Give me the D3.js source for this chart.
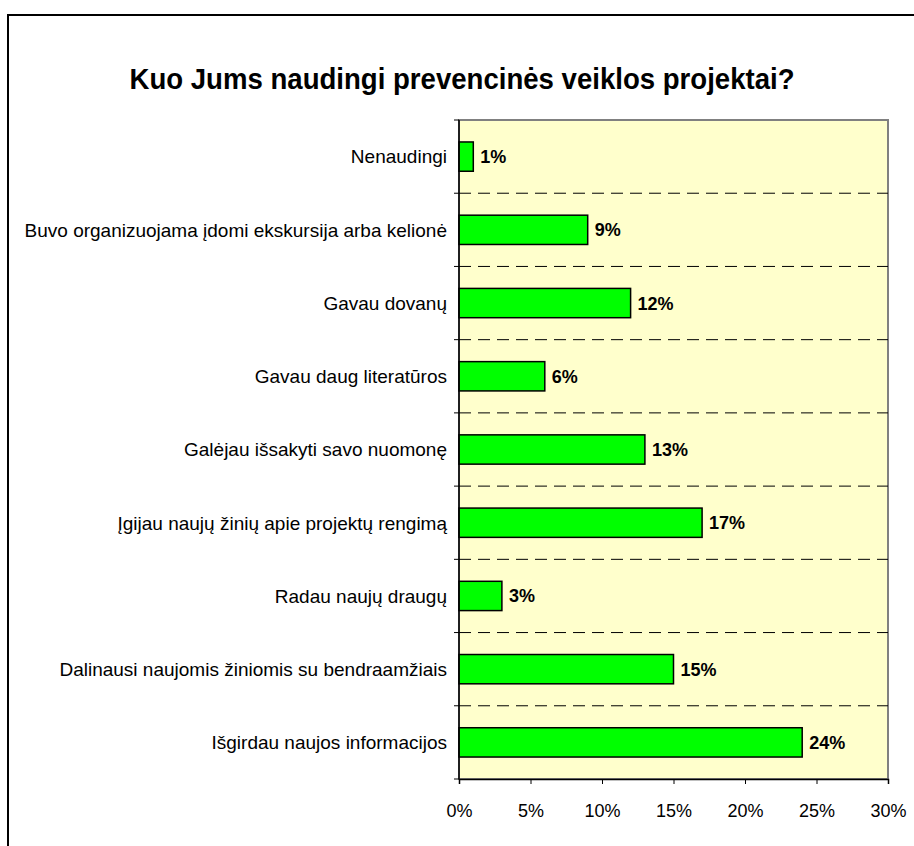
<!DOCTYPE html>
<html>
<head>
<meta charset="utf-8">
<script src="https://cdn.jsdelivr.net/npm/d3@7"></script>
<style>
  body { margin: 0; background: #fff; }
  svg { display: block; font-family: "Liberation Sans", Arial, sans-serif; }
</style>
</head>
<body>
<div id="chart"></div>
<script>
"use strict";

// chart data
var categories = [
  "Nenaudingi",
  "Buvo organizuojama įdomi ekskursija arba kelionė",
  "Gavau dovanų",
  "Gavau daug literatūros",
  "Galėjau išsakyti savo nuomonę",
  "Įgijau naujų žinių apie projektų rengimą",
  "Radau naujų draugų",
  "Dalinausi naujomis žiniomis su bendraamžiais",
  "Išgirdau naujos informacijos"
];
var values = [1, 9, 12, 6, 13, 17, 3, 15, 24];
var xTicks = [0, 5, 10, 15, 20, 25, 30];
var titleText = "Kuo Jums naudingi prevencinės veiklos projektai?";

var width = 914, height = 846;
var plot = { left: 459, top: 120, right: 888, bottom: 779 };

var svg = d3.select("#chart").append("svg")
    .attr("width", width)
    .attr("height", height);

// outer chart border
svg.append("rect")
    .attr("x", 8).attr("y", 15)
    .attr("width", width + 10).attr("height", height + 10)
    .attr("fill", "#fff")
    .attr("stroke", "#000")
    .attr("stroke-width", 2);

// title, a bit condensed like the original
svg.append("text")
    .attr("x", 462).attr("y", 89)
    .attr("text-anchor", "middle")
    .attr("font-size", 30)
    .attr("font-weight", "bold")
    .attr("textLength", 665)
    .attr("lengthAdjust", "spacingAndGlyphs")
    .text(titleText);

var x = d3.scaleLinear().domain([0, 30]).range([plot.left, plot.right]);
var y = d3.scaleBand().domain(categories).range([plot.top, plot.bottom]).paddingInner(0.6).paddingOuter(0.3);
var step = y.step();

// plot background
svg.append("rect")
    .attr("x", plot.left).attr("y", plot.top)
    .attr("width", plot.right - plot.left).attr("height", plot.bottom - plot.top)
    .attr("fill", "#FFFFCC")
    .attr("stroke", "#808080")
    .attr("stroke-width", 2);

// dashed gridlines between categories
var bounds = d3.range(1, categories.length).map(function(i) { return plot.top + i * step; });
svg.selectAll("line.grid")
    .data(bounds)
    .enter().append("line")
    .attr("class", "grid")
    .attr("x1", plot.left).attr("x2", plot.right)
    .attr("y1", function(d) { return d; }).attr("y2", function(d) { return d; })
    .attr("stroke", "#000")
    .attr("stroke-width", 1)
    .attr("stroke-dasharray", "12,7");

// bars
svg.selectAll("rect.bar")
    .data(values)
    .enter().append("rect")
    .attr("class", "bar")
    .attr("x", x(0))
    .attr("y", function(d, i) { return y(categories[i]); })
    .attr("width", function(d) { return x(d) - x(0); })
    .attr("height", y.bandwidth())
    .attr("fill", "#00FF00")
    .attr("stroke", "#000")
    .attr("stroke-width", 1.5);

// value labels
svg.selectAll("text.val")
    .data(values)
    .enter().append("text")
    .attr("class", "val")
    .attr("x", function(d) { return x(d) + 7; })
    .attr("y", function(d, i) { return y(categories[i]) + y.bandwidth() / 2; })
    .attr("dy", "0.36em")
    .attr("font-size", 18)
    .attr("font-weight", "bold")
    .text(function(d) { return d + "%"; });

// y axis: category labels, ticks at boundaries
var yAxisG = svg.append("g");
yAxisG.append("line")
    .attr("x1", plot.left).attr("x2", plot.left)
    .attr("y1", plot.top).attr("y2", plot.bottom)
    .attr("stroke", "#000").attr("stroke-width", 1.5);
yAxisG.selectAll("line.tk")
    .data(d3.range(0, categories.length + 1))
    .enter().append("line")
    .attr("x1", plot.left - 5).attr("x2", plot.left)
    .attr("y1", function(i) { return plot.top + i * step; })
    .attr("y2", function(i) { return plot.top + i * step; })
    .attr("stroke", "#000");
yAxisG.selectAll("text")
    .data(categories)
    .enter().append("text")
    .attr("x", plot.left - 12)
    .attr("y", function(d) { return y(d) + y.bandwidth() / 2; })
    .attr("dy", "0.36em")
    .attr("text-anchor", "end")
    .attr("font-size", 19)
    .text(function(d) { return d; });

// x axis
var xAxis = d3.axisBottom(x)
    .tickValues(xTicks)
    .tickSize(5)
    .tickPadding(20)
    .tickFormat(function(d) { return d + "%"; });
var xg = svg.append("g")
    .attr("transform", "translate(0," + plot.bottom + ")")
    .call(xAxis);
xg.select(".domain").attr("stroke", "#000").attr("stroke-width", 1.5);
xg.selectAll(".tick line").attr("stroke", "#000");
xg.selectAll(".tick text")
    .attr("font-size", 18)
    .attr("font-family", "Liberation Sans, Arial, sans-serif")
    .attr("fill", "#000");
</script>
</body>
</html>
